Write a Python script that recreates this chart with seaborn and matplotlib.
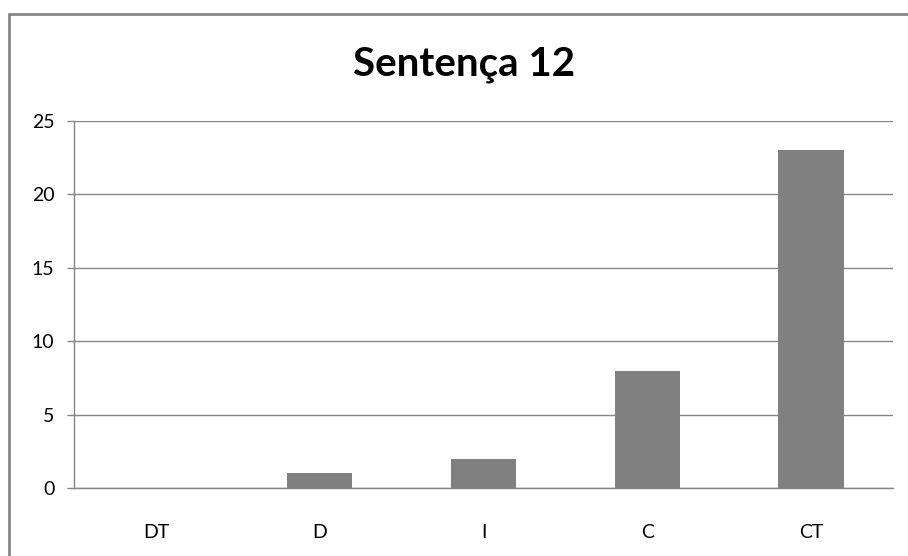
import matplotlib
matplotlib.use('Agg')
import matplotlib.pyplot as plt
import seaborn as sns
import pandas as pd
from matplotlib.patches import Rectangle

# chart data
categories = ['DT', 'D', 'I', 'C', 'CT']
counts = [0, 1, 2, 8, 23]
y_ticks = [0, 5, 10, 15, 20, 25]

df = pd.DataFrame({'cat': categories, 'count': counts})

sns.set_style('white')
plt.rcParams['font.family'] = ['Lato', 'DejaVu Sans']

fig = plt.figure(figsize=(9.08, 5.56), dpi=100)
ax = fig.add_axes([74 / 908, 1 - 488 / 556, (893 - 74) / 908, (488 - 121) / 556])

sns.barplot(data=df, x='cat', y='count', color='#808080', saturation=1,
            width=0.4, edgecolor='none', ax=ax)

grid_c = '#868686'
ax.set_ylim(0, 25)
ax.set_xlim(-0.5, len(categories) - 0.5)
ax.set_yticks(y_ticks)
ax.yaxis.grid(True, color=grid_c, linewidth=1)
ax.set_axisbelow(True)
ax.set_xlabel('')
ax.set_ylabel('')

for s in ['top', 'right']:
    ax.spines[s].set_visible(False)
for s in ['left', 'bottom']:
    ax.spines[s].set_color(grid_c)
    ax.spines[s].set_linewidth(1)

# ticks between categories on x, labels centred
ax.set_xticks([i - 0.5 for i in range(len(categories) + 1)], minor=True)
ax.tick_params(axis='x', which='minor', length=5, color=grid_c, width=1, direction='out')
ax.tick_params(axis='x', which='major', length=0, pad=26, labelsize=14, labelcolor='#000000')
ax.tick_params(axis='y', length=5, color=grid_c, width=1, direction='out', pad=9,
               labelsize=14, labelcolor='#000000', left=True)

fig.text(464 / 908, 1 - 65 / 556, 'Sentença 12', ha='center', va='center',
         fontsize=29, fontweight='bold', color='#000000')

# outer chart border (right and bottom edges fall outside the image)
fig.patches.append(Rectangle((8.5 / 908, -0.05), 1, 1.05 - 14 / 556,
                             transform=fig.transFigure, fill=False,
                             edgecolor='#868686', linewidth=2))

fig.savefig('out.png', dpi=100)
